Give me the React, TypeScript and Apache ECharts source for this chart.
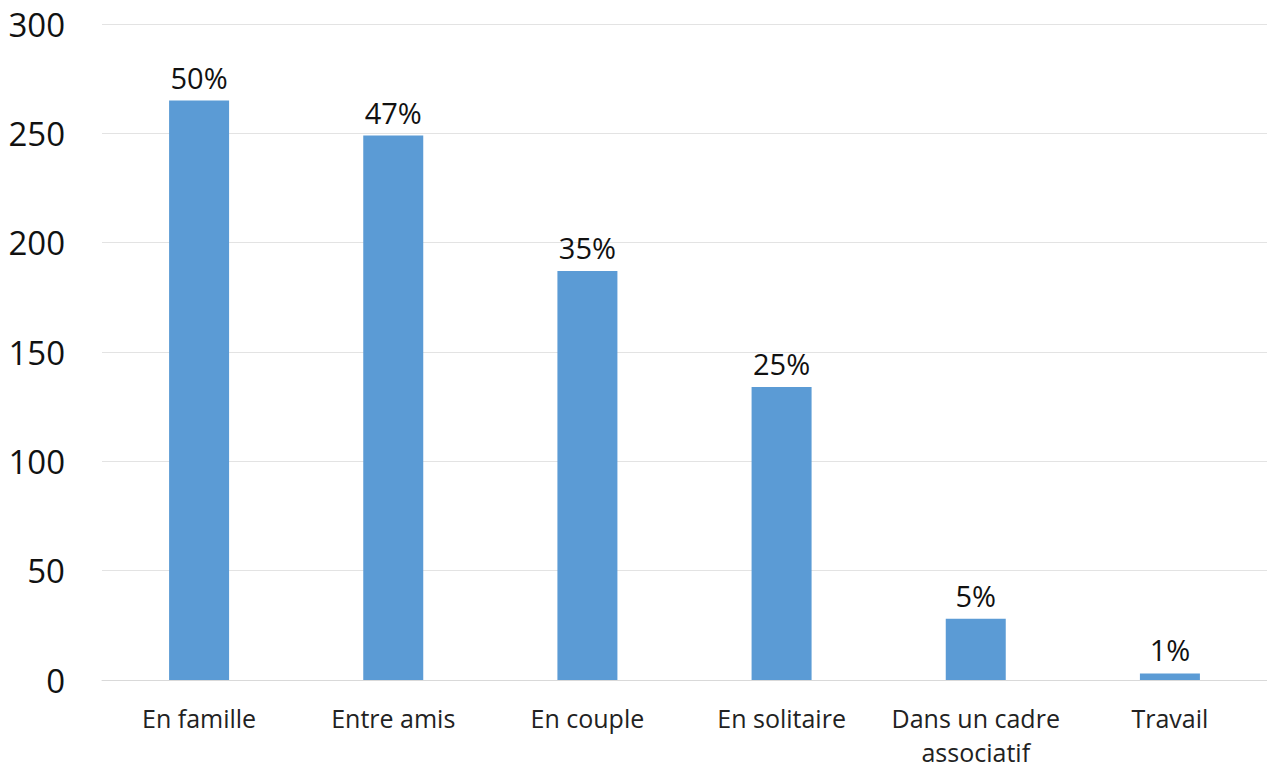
import React, { useEffect, useRef } from "react";
import * as echarts from "echarts";

const categories = ["En famille", "Entre amis", "En couple", "En solitaire", "Dans un cadre\nassociatif", "Travail"];
const values = [265, 249, 187, 134, 28, 3];
const percentLabels = ["50%", "47%", "35%", "25%", "5%", "1%"];
const yTicks = { min: 0, max: 300, interval: 50 };

export default function App() {
  const ref = useRef<HTMLDivElement>(null);
  useEffect(() => {
    const chart = echarts.init(ref.current!, null, { renderer: "svg" });
    const font = "'Open Sans', 'Noto Sans', sans-serif";
    chart.setOption({
      animation: false,
      backgroundColor: "#ffffff",
      grid: { left: 102, right: -4, top: 24, bottom: 89, containLabel: false },
      xAxis: {
        type: "category",
        data: categories,
        axisLine: { show: true, lineStyle: { color: "#D9D9D9", width: 1 } },
        axisTick: { show: false },
        axisLabel: { color: "#222", fontSize: 25, fontFamily: font, margin: 21, lineHeight: 34, interval: 0 },
      },
      yAxis: {
        type: "value",
        min: yTicks.min,
        max: yTicks.max,
        interval: yTicks.interval,
        axisLine: { show: false },
        axisTick: { show: false },
        splitLine: { lineStyle: { color: "#E3E3E3", width: 1 } },
        axisLabel: { color: "#111", fontSize: 33, fontFamily: font, margin: 37 },
      },
      series: [
        {
          type: "bar",
          data: values,
          barWidth: 60,
          itemStyle: { color: "#5B9BD5" },
          label: {
            show: true,
            position: "top",
            distance: 9,
            color: "#111",
            fontSize: 29,
            fontFamily: font,
            formatter: (p: any) => percentLabels[p.dataIndex],
          },
        },
      ],
    });
    return () => chart.dispose();
  }, []);
  return <div ref={ref} style={{ width: 1267, height: 769, position: "absolute", left: 0, top: 0 }} />;
}
